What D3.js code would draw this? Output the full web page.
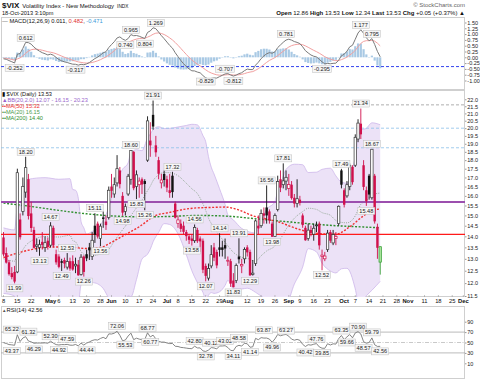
<!DOCTYPE html>
<html><head><meta charset="utf-8">
<script src="https://cdn.jsdelivr.net/npm/d3@7/dist/d3.min.js"></script>
<style>html,body{margin:0;padding:0;background:#fff}svg{display:block}</style>
</head><body>
<svg id="chart" width="480" height="380"></svg>
<script>
// ---------------- DATA ----------------
const firstDay = "2013-04-08";
const lastAxisDay = "2013-12-02";
const marketHolidays = ["2013-05-27","2013-07-04","2013-09-02","2013-11-28"];
const prevClose = 13.92;   // close of 2013-04-05

const opens = [13.95,13.25,12.85,12.40,12.45,12.45,14.80,15.20,16.20,16.90,
15.10,14.30,13.55,13.50,13.75,13.50,13.80,13.60,14.40,13.20,
13.10,12.90,12.95,12.65,12.90,12.90,12.70,12.75,12.35,13.10,
13.20,13.50,13.10,14.50,14.60,13.90,14.90,14.70,14.90,16.50,
16.10,16.70,17.40,16.00,15.20,16.10,16.90,18.50,16.50,16.60,
16.90,16.80,18.00,19.20,20.90,18.90,18.00,16.70,17.20,16.90,
16.30,17.10,15.60,14.60,14.60,14.50,14.20,14.00,13.90,13.80,
14.30,13.90,13.80,12.70,12.20,12.70,13.50,13.30,13.50,13.50,
13.60,12.90,12.90,12.10,12.10,13.10,12.70,13.00,13.50,13.30,
12.35,12.80,14.50,14.50,15.10,15.40,15.20,14.60,14.00,15.30,
16.90,16.60,16.80,16.40,16.60,15.90,15.60,15.80,15.00,14.40,
13.90,14.30,14.10,14.50,14.60,13.10,13.00,13.40,14.20,13.70,
13.90,14.60,17.40,16.30,16.00,16.50,17.60,17.70,19.30,20.30,
17.70,16.30,17.10,15.90,17.10,14.45,12.86];
const highs = [14.20,13.50,12.95,12.65,12.70,17.50,15.10,17.00,18.20,17.20,
15.70,14.45,13.90,13.85,14.20,14.00,13.95,14.67,14.50,13.40,
13.20,13.00,13.05,13.25,13.05,13.15,13.05,12.95,13.20,13.15,
13.40,13.70,14.20,15.11,14.70,14.60,15.20,15.00,16.50,17.20,
17.00,18.30,17.60,16.20,15.60,17.20,18.60,18.55,17.40,17.00,
17.00,16.90,20.80,20.40,21.91,19.50,18.20,17.20,17.40,17.10,
17.20,17.32,15.70,15.00,14.80,14.70,14.30,14.10,14.10,14.56,
14.40,14.00,13.90,12.80,12.80,13.60,13.70,13.40,14.14,13.80,
13.90,13.10,13.00,12.40,12.80,13.91,13.00,13.50,13.60,13.40,
12.95,14.80,15.00,15.30,15.40,16.56,15.30,14.70,15.10,17.10,
17.40,17.81,17.40,17.20,16.80,16.10,16.90,16.00,15.10,14.50,
14.60,14.50,14.60,14.70,14.70,13.40,13.30,14.30,14.30,14.30,
14.20,15.50,17.49,16.40,16.80,17.80,17.70,19.60,20.60,21.34,
18.00,16.50,17.20,18.67,17.20,14.60,13.53];
const lows = [13.10,12.80,12.30,12.15,11.99,12.40,13.85,15.00,15.90,14.80,
14.20,13.45,13.30,13.13,13.40,13.30,13.40,13.50,13.50,12.75,
12.60,12.49,12.60,12.55,12.50,12.50,12.40,12.30,12.30,12.26,
12.90,12.95,12.95,13.70,13.90,13.56,14.40,14.30,14.80,15.90,
15.90,16.50,16.40,14.98,15.00,16.00,16.60,16.30,15.83,15.90,
16.10,15.26,17.90,18.20,19.90,18.20,16.90,16.40,16.50,16.20,
15.90,15.90,14.85,14.40,14.20,14.10,13.80,13.65,13.58,13.70,
13.70,13.30,12.40,12.07,12.10,12.60,12.90,12.60,13.10,13.10,
13.00,12.70,11.85,11.83,12.00,12.80,12.40,12.80,13.10,12.29,
12.30,12.70,14.10,14.40,14.60,14.60,14.60,13.98,13.99,15.20,
16.20,16.40,16.30,16.00,15.80,15.40,15.40,15.50,14.40,13.80,
13.80,14.00,13.80,14.20,13.40,12.52,12.90,13.30,13.70,13.60,
13.60,14.50,16.40,15.40,15.90,16.30,16.60,17.60,19.10,19.30,
16.30,15.48,15.80,15.80,14.60,13.00,12.34];
const closes = [13.19,12.84,12.36,12.24,12.06,17.27,13.96,16.51,17.56,14.97,
14.39,13.48,13.61,13.62,13.61,13.71,13.52,14.49,13.59,12.85,
12.66,12.83,12.80,12.88,12.59,12.55,12.77,12.31,13.07,12.45,
13.02,13.37,13.82,14.07,13.99,14.48,14.83,14.53,16.30,16.27,
16.60,17.50,16.63,15.14,15.44,17.07,18.59,16.41,17.15,16.80,
16.61,16.64,20.49,18.90,20.11,18.47,17.21,16.86,16.86,16.44,
16.15,16.20,14.89,14.78,14.35,14.21,14.01,13.84,13.79,14.42,
13.78,13.77,12.54,12.29,12.59,13.18,13.05,12.72,13.39,13.39,
13.45,12.94,11.98,11.84,12.72,12.98,12.76,13.41,13.28,12.31,
12.40,14.73,14.37,15.10,14.99,15.00,14.76,13.98,14.99,16.77,
16.44,16.81,17.01,16.61,15.88,15.60,15.85,15.63,14.53,13.82,
14.29,14.16,14.38,14.53,13.59,13.16,13.12,14.15,13.80,14.08,
14.00,15.46,16.60,15.54,16.60,17.67,16.74,19.41,20.34,19.60,
16.48,15.72,16.07,18.66,14.71,13.48,13.53];

// Bollinger Bands (20,2) and MA(20) read at these trading-day indices
const bbDays = [0,4,5,6,7,8,9,15,20,24,25,26,27,28,29,30,32,34,36,38,40,43,45,46,48,50,52,53,54,56,58,60,63,66,68,70,72,73,74,75,76,78,80,81,83,86,88,91,93,95,98,99,100,102,105,108,110,113,115,118,120,122,124,127,128,129,131,133,136];
const bbUpper = [14.40,14.30,15.40,15.45,16.20,16.80,16.90,16.99,16.90,16.93,16.34,16.30,15.88,14.70,14.40,14.10,14.23,14.37,14.75,15.40,16.40,17.47,17.84,18.47,18.63,18.57,19.36,19.62,19.90,20.10,19.98,19.99,20.08,20.18,20.26,20.22,19.52,19.13,18.21,17.59,17.20,16.38,15.55,15.03,14.78,14.37,14.24,14.16,14.76,15.30,15.70,16.28,16.60,17.46,17.76,17.73,17.28,17.30,17.46,17.53,17.09,16.74,16.68,18.20,19.23,19.88,19.99,20.36,20.23];
const bbLower = [11.60,11.50,10.90,10.95,10.60,10.40,10.50,10.99,11.00,11.17,11.28,11.20,11.20,11.94,12.00,12.10,12.03,11.97,11.79,11.42,11.16,11.15,11.52,11.47,12.14,12.99,13.20,13.42,13.75,14.18,14.60,14.56,14.12,13.18,12.50,12.02,11.64,11.37,11.53,11.63,11.60,11.66,11.91,12.11,11.78,11.77,11.80,11.64,11.50,11.38,11.43,11.20,11.20,11.20,11.96,12.65,13.44,13.30,12.82,12.49,12.41,12.58,12.60,11.77,11.31,11.24,11.51,11.72,12.07];
const ma20 = [13.00,12.90,13.15,13.20,13.40,13.58,13.70,13.99,13.97,14.05,13.81,13.75,13.54,13.32,13.19,13.12,13.13,13.17,13.27,13.41,13.78,14.31,14.68,14.97,15.38,15.78,16.28,16.52,16.82,17.14,17.29,17.27,17.10,16.68,16.38,16.12,15.58,15.25,14.87,14.61,14.40,14.02,13.73,13.57,13.28,13.07,13.02,12.90,13.13,13.34,13.57,13.74,13.89,14.33,14.86,15.19,15.36,15.30,15.14,15.01,14.75,14.66,14.64,14.98,15.27,15.56,15.75,16.04,16.15];
const ma50Days = [0,5,10,15,20,25,30,35,40,45,49,55,60,65,70,75,80,85,90,95,100,105,110,115,120,125,130,133,136];
const ma50 = [13.05,13.25,13.40,13.50,13.52,13.50,13.45,13.50,13.80,14.15,14.45,15.00,15.15,15.30,15.38,15.40,15.42,15.27,14.98,14.82,14.65,14.40,14.21,14.12,14.10,14.45,14.98,15.25,15.32];
const ma200Days = [0,10,20,30,40,50,60,70,80,90,100,110,120,130,136];
const ma200 = [15.62,15.45,15.25,15.08,14.97,14.93,14.95,15.00,14.97,14.85,14.72,14.60,14.50,14.44,14.40];

// indicator starting states on 2013-04-05
const ema12Start = 13.18, ema26Start = 13.25, signalStart = -0.03;
const rsiGainStart = 0.45, rsiLossStart = 0.40;

// horizontal annotation lines
const purpleLevel = 15.68, redLevel = 14.09;
const blueDashLevels = [20.0, 18.75];
const greyDashLevel = 21.6;
const macdDashLevel = -0.40;

// swing labels
const priceHiLabels = [[8,"18.20"],[17,"14.67"],[23,"12.53"],[33,"15.11"],[46,"18.60"],[54,"21.91"],[61,"17.32"],[69,"14.56"],[78,"14.14"],[85,"13.91"],[95,"16.56"],[101,"17.81"],[122,"17.49"],[129,"21.34"],[133,"18.67"]];
const priceLoLabels = [[4,"11.99"],[13,"13.13"],[21,"12.49"],[29,"12.26"],[35,"13.56"],[43,"14.98"],[48,"15.83"],[51,"15.26"],[68,"13.58"],[73,"12.07"],[83,"11.83"],[89,"12.29"],[97,"13.98"],[115,"12.52"],[131,"15.48"]];
const macdHiLabels = [[8,"0.612"],[46,"0.965"],[55,"1.269"],[80,"-0.707"],[102,"0.781"],[129,"1.177"],[133,"0.795"]];
const macdLoLabels = [[4,"-0.252"],[26,"-0.317"],[44,"0.740"],[51,"0.804"],[73,"-0.829"],[83,"-0.812"],[115,"-0.295"]];
const rsiHiLabels = [[3,"65.22"],[9,"61.32"],[17,"52.30"],[23,"47.59"],[41,"72.06"],[52,"68.77"],[69,"42.80"],[75,"40.12"],[80,"43.02"],[85,"48.58"],[94,"63.87"],[102,"63.27"],[113,"47.76"],[122,"63.35"],[128,"70.90"],[133,"59.79"]];
const rsiLoLabels = [[3,"43.37"],[11,"46.29"],[20,"44.92"],[30,"44.44"],[44,"55.53"],[53,"60.77"],[73,"32.78"],[83,"34.11"],[89,"41.14"],[97,"49.96"],[109,"40.42"],[115,"39.85"],[124,"59.66"],[130,"48.57"],[136,"42.56"]];

// axes
const tickDates = ["2013-04-08","2013-04-15","2013-04-22","2013-05-01","2013-05-06","2013-05-13","2013-05-20","2013-05-28","2013-06-03","2013-06-10","2013-06-17","2013-06-24","2013-07-01","2013-07-08","2013-07-15","2013-07-22","2013-07-29","2013-08-01","2013-08-12","2013-08-19","2013-08-26","2013-09-03","2013-09-09","2013-09-16","2013-09-23","2013-10-01","2013-10-07","2013-10-14","2013-10-21","2013-10-28","2013-11-01","2013-11-11","2013-11-18","2013-11-25","2013-12-02"];
const tickLabels = ["8","15","22","May","6","13","20","28","Jun","10","17","24","Jul","8","15","22","29","Aug","12","19","26","Sep","9","16","23","Oct","7","14","21","28","Nov","11","18","25","Dec"];
const priceTicks = [11.5,12,12.5,13,13.5,14,14.5,15,15.5,16,16.5,17,17.5,18,18.5,19,19.5,20,20.5,21,21.5,22];
const macdTicks = [-1,-0.75,-0.5,-0.25,0,0.25,0.5,0.75,1,1.25,1.5];
const rsiTicks = [10,30,50,70,90];

// texts
const titleSym = "$VIX", titleName = "Volatility Index - New Methodology", titleEx = "INDX";
const stamp = "18-Oct-2013 3:10pm";
const quote = [["Open",true],[" 12.86 ",false],["High",true],[" 13.53 ",false],["Low",true],[" 12.34 ",false],["Last",true],[" 13.53 ",false],["Chg",true],[" +0.05 (+0.37%) \u25B2",false]];

// ---------------- DRAW ----------------
const FONT = '"Liberation Sans", Arial, Helvetica, sans-serif';
const svg = d3.select("#chart").attr("font-family", FONT);
const L = 1, R = 465;
const P = {macdTop:17, macdBot:90, priceTop:90, priceBot:297, rsiTop:306, rsiBot:379};
const RED = "#d0104c", BLK = "#111";

function buildDays(){
  const out = [], hol = new Set(marketHolidays);
  let d = new Date(firstDay + "T00:00:00Z");
  const end = new Date(lastAxisDay + "T00:00:00Z");
  while (d <= end) {
    const wd = d.getUTCDay(), s = d.toISOString().slice(0,10);
    if (wd !== 0 && wd !== 6 && !hol.has(s)) out.push(s);
    d = new Date(d.getTime() + 86400000);
  }
  return out;
}
const days = buildDays();
const x = d3.scaleLinear().domain([0, days.length - 1]).range([3.5, 463.3]);
const yM = d3.scaleLinear().domain([-1, 1.5]).range([80.5, 22.5]);
const yP = d3.scaleLog().domain([11.5, 22]).range([296, 99.3]);
const yR = d3.scaleLinear().domain([10, 90]).range([363.3, 321.7]);

// indicators
const macd = [], signal = [], hist = [];
let e12 = ema12Start, e26 = ema26Start, sg = signalStart;
closes.forEach(c => {
  e12 += (2/13) * (c - e12); e26 += (2/27) * (c - e26);
  const m = e12 - e26; sg += (2/10) * (m - sg);
  macd.push(m); signal.push(sg); hist.push(m - sg);
});
const rsi = [];
let ag = rsiGainStart, al = rsiLossStart, pc = prevClose;
closes.forEach(c => {
  const d = c - pc;
  ag = (ag * 13 + Math.max(d, 0)) / 14; al = (al * 13 + Math.max(-d, 0)) / 14;
  rsi.push(100 - 100 / (1 + ag / al)); pc = c;
});

// clip paths
const defs = svg.append("defs");
[["cm",P.macdTop,P.macdBot],["cp",P.priceTop,P.priceBot],["cr",P.rsiTop,P.rsiBot]].forEach(([id,t,b]) => {
  defs.append("clipPath").attr("id", id).append("rect").attr("x", L).attr("y", t).attr("width", R - L).attr("height", b - t);
});

// panel frames
[[P.macdTop,P.macdBot],[P.priceTop,P.priceBot],[P.rsiTop,P.rsiBot]].forEach(([t,b]) => {
  svg.append("rect").attr("x", L + 0.5).attr("y", t + 0.5).attr("width", R - L - 1).attr("height", b - t - 1)
    .attr("fill", "none").attr("stroke", "#cfcfcf").attr("stroke-width", 1);
});

function label(g, cx, yA, txt, side, fs) {
  fs = fs || 5.6;
  const gg = g.append("g");
  const t = gg.append("text").attr("x", cx).attr("text-anchor", "middle").attr("font-size", fs).attr("fill", "#222").text(txt);
  const w = t.node().getComputedTextLength() + 3, h = fs + 1.4;
  const top = side === "hi" ? yA - 1.5 - h : yA + 1.5;
  t.attr("y", top + h - 1.6);
  gg.insert("rect", "text").attr("x", cx - w / 2).attr("y", top).attr("width", w).attr("height", h)
    .attr("fill", "#f6f6f6").attr("stroke", "#bdbdbd").attr("stroke-width", 0.5);
}

// right axis helper
function rightAxis(scale, ticks, fmt) {
  const g = svg.append("g").attr("transform", `translate(${R},0)`)
    .call(d3.axisRight(scale).tickValues(ticks).tickFormat(fmt).tickSize(1.5).tickPadding(0.8));
  g.select(".domain").remove();
  g.selectAll("line").attr("stroke", "#999");
  g.selectAll("text").attr("font-size", 5.5).attr("fill", "#222").attr("font-family", FONT);
}

// ----- Title -----
const tt = svg.append("text").attr("x", 2).attr("y", 8).attr("fill", "#111");
tt.append("tspan").attr("font-weight", "bold").attr("font-size", 8).text(titleSym);
tt.append("tspan").attr("font-size", 6).attr("dx", 3).text(titleName);
tt.append("tspan").attr("font-size", 4.8).attr("dx", 3).text(titleEx);
svg.append("text").attr("x", 2).attr("y", 15).attr("font-size", 5.6).attr("fill", "#111").text(stamp);
svg.append("text").attr("x", R).attr("y", 7).attr("text-anchor", "end").attr("font-size", 6).attr("fill", "#666").text("\u00A9 StockCharts.com");
const qt = svg.append("text").attr("x", R).attr("y", 15).attr("text-anchor", "end").attr("font-size", 6).attr("fill", "#111");
quote.forEach(([s, b]) => qt.append("tspan").attr("font-weight", b ? "bold" : "normal").text(s));

// ----- MACD panel -----
const gm = svg.append("g").attr("clip-path", "url(#cm)");
gm.selectAll("rect.h").data(hist).join("rect").attr("class", "h")
  .attr("x", (d, i) => x(i) - 1.1).attr("width", 2.2)
  .attr("y", d => Math.min(yM(0), yM(d))).attr("height", d => Math.max(0.4, Math.abs(yM(d) - yM(0))))
  .attr("fill", "#a9c9e4");
gm.append("line").attr("x1", L).attr("x2", R).attr("y1", yM(macdDashLevel)).attr("y2", yM(macdDashLevel))
  .attr("stroke", "#3344ee").attr("stroke-width", 1).attr("stroke-dasharray", "3,2");
const lineM = d3.line().x((d, i) => x(i)).y(d => yM(d));
gm.append("path").attr("d", lineM(signal)).attr("fill", "none").attr("stroke", "#f2a0a0").attr("stroke-width", 1);
gm.append("path").attr("d", lineM(macd)).attr("fill", "none").attr("stroke", "#7a7a7a").attr("stroke-width", 1);
const gml = svg.append("g");
macdHiLabels.forEach(([i, t]) => label(gml, x(i), yM(+t), t, "hi"));
macdLoLabels.forEach(([i, t]) => label(gml, x(i), yM(+t), t, "lo"));
const ml = svg.append("text").attr("x", 2).attr("y", 23).attr("font-size", 5.8).attr("fill", "#111");
ml.append("tspan").attr("fill", "#666").text("\u2014 ");
ml.append("tspan").text("MACD(12,26,9) 0.011, ");
ml.append("tspan").attr("fill", "#e03030").text("0.482");
ml.append("tspan").text(", ");
ml.append("tspan").attr("fill", "#3a9ad9").text("-0.471");
rightAxis(yM, macdTicks, d => d.toFixed(2));

// ----- Price panel -----
const gp = svg.append("g").attr("clip-path", "url(#cp)");
const bbPts = bbDays.map((d, k) => [d, bbUpper[k], bbLower[k], ma20[k]]);
gp.append("path").datum(bbPts)
  .attr("d", d3.area().x(d => x(d[0])).y0(d => yP(d[2])).y1(d => yP(d[1])).curve(d3.curveMonotoneX))
  .attr("fill", "#ece2f7");
const lnP = d3.line().x(d => x(d[0])).y(d => yP(d[1])).curve(d3.curveMonotoneX);
gp.append("path").attr("d", lnP(bbPts.map(d => [d[0], d[1]]))).attr("fill", "none").attr("stroke", "#cdb6ea").attr("stroke-width", 0.8);
gp.append("path").attr("d", lnP(bbPts.map(d => [d[0], d[2]]))).attr("fill", "none").attr("stroke", "#cdb6ea").attr("stroke-width", 0.8);
blueDashLevels.forEach(v => gp.append("line").attr("x1", L).attr("x2", R).attr("y1", yP(v)).attr("y2", yP(v))
  .attr("stroke", "#8cc0ea").attr("stroke-width", 0.8).attr("stroke-dasharray", "3,2"));
gp.append("line").attr("x1", L).attr("x2", R).attr("y1", yP(greyDashLevel)).attr("y2", yP(greyDashLevel))
  .attr("stroke", "#999").attr("stroke-width", 0.8).attr("stroke-dasharray", "3,2");
gp.append("path").attr("d", lnP(bbPts.map(d => [d[0], d[3]]))).attr("fill", "none").attr("stroke", "#7f9a7f").attr("stroke-width", 0.8).attr("stroke-dasharray", "1,1.2");
gp.append("path").attr("d", lnP(ma200Days.map((d, k) => [d, ma200[k]]))).attr("fill", "none").attr("stroke", "#2f8f2f").attr("stroke-width", 1.4).attr("stroke-dasharray", "2,1.6");
gp.append("path").attr("d", lnP(ma50Days.map((d, k) => [d, ma50[k]]))).attr("fill", "none").attr("stroke", "#f03030").attr("stroke-width", 1.4).attr("stroke-dasharray", "2,1.6");
gp.append("line").attr("x1", L).attr("x2", R).attr("y1", yP(purpleLevel)).attr("y2", yP(purpleLevel)).attr("stroke", "#9c4fae").attr("stroke-width", 1.8);
gp.append("line").attr("x1", L).attr("x2", R).attr("y1", yP(redLevel)).attr("y2", yP(redLevel)).attr("stroke", "#ff1a1a").attr("stroke-width", 1.4);

// candles
const last = closes.length - 1;
closes.forEach((c, i) => {
  const o = opens[i], h = highs[i], l = lows[i];
  const prev = i === 0 ? prevClose : closes[i - 1];
  const isLast = i === last;
  const col = isLast ? "#2f9a2f" : (c < prev ? RED : BLK);
  const hollow = c > o;
  const cx = x(i);
  gp.append("line").attr("x1", cx).attr("x2", cx).attr("y1", yP(h)).attr("y2", yP(l))
    .attr("stroke", col).attr("stroke-width", 0.9);
  const yT = yP(Math.max(o, c)), yB = yP(Math.min(o, c));
  const r = gp.append("rect").attr("x", cx - 1.2).attr("width", 2.4).attr("y", yT).attr("height", Math.max(0.8, yB - yT));
  if (isLast) r.attr("fill", "#a6e39a").attr("stroke", col).attr("stroke-width", 0.7);
  else if (hollow) r.attr("fill", "#fff").attr("stroke", col === BLK ? "#333" : col).attr("stroke-width", 0.7);
  else r.attr("fill", col);
});
const gpl = svg.append("g");
priceHiLabels.forEach(([i, t]) => label(gpl, x(i), yP(highs[i]), t, "hi"));
priceLoLabels.forEach(([i, t]) => label(gpl, x(i), yP(lows[i]), t, "lo"));

// price legend
const leg = [
  [["\u25AE ", "#111"], ["$VIX (Daily) 13.53", "#111"]],
  [["\u25B2", "#9966cc"], ["BB(20,2.0) 12.07 - 16.15 - 20.23", "#9966cc"]],
  [["\u2022\u2022", "#f03030"], ["MA(50) 15.32", "#f03030"]],
  [["\u2022\u2022", "#4a9a4a"], ["MA(20) 16.15", "#4a9a4a"]],
  [["\u2022\u2022", "#2f8f2f"], ["MA(200) 14.40", "#2f8f2f"]]
];
leg.forEach((row, k) => {
  const t = svg.append("text").attr("x", 2).attr("y", 96 + k * 6).attr("font-size", 5.6);
  row.forEach(([s, c]) => t.append("tspan").attr("fill", c).text(s));
});
rightAxis(yP, priceTicks, d => d.toFixed(1));

// date axis
const ga = svg.append("g");
tickDates.forEach((d, k) => {
  const i = days.indexOf(d);
  const bold = isNaN(+tickLabels[k]);
  ga.append("line").attr("x1", x(i)).attr("x2", x(i)).attr("y1", P.priceBot - 2).attr("y2", P.priceBot).attr("stroke", "#999").attr("stroke-width", 0.6);
  ga.append("text").attr("x", x(i)).attr("y", 303).attr("text-anchor", "middle").attr("font-size", 5.8)
    .attr("font-weight", bold ? "bold" : "normal").attr("fill", "#111").text(tickLabels[k]);
});

// ----- RSI panel -----
const gr = svg.append("g").attr("clip-path", "url(#cr)");
[70, 30].forEach(v => gr.append("line").attr("x1", L).attr("x2", R).attr("y1", yR(v)).attr("y2", yR(v)).attr("stroke", "#aaa").attr("stroke-width", 0.8));
gr.append("line").attr("x1", L).attr("x2", R).attr("y1", yR(50)).attr("y2", yR(50)).attr("stroke", "#bbb").attr("stroke-width", 0.8).attr("stroke-dasharray", "4,1.5,1,1.5");
gr.append("path").attr("d", d3.line().x((d, i) => x(i)).y(d => yR(d))(rsi)).attr("fill", "none").attr("stroke", "#777").attr("stroke-width", 0.9);
const grl = svg.append("g");
rsiHiLabels.forEach(([i, t]) => label(grl, x(i), yR(+t), t, "hi"));
rsiLoLabels.forEach(([i, t]) => label(grl, x(i), yR(+t), t, "lo"));
const rl = svg.append("text").attr("x", 2).attr("y", 312).attr("font-size", 5.8).attr("fill", "#111");
rl.append("tspan").attr("fill", "#555").attr("font-size", 4.5).text("\u25B2");
rl.append("tspan").text("RSI(14) 42.56");
rightAxis(yR, rsiTicks, d => String(d));
</script>
</body></html>
